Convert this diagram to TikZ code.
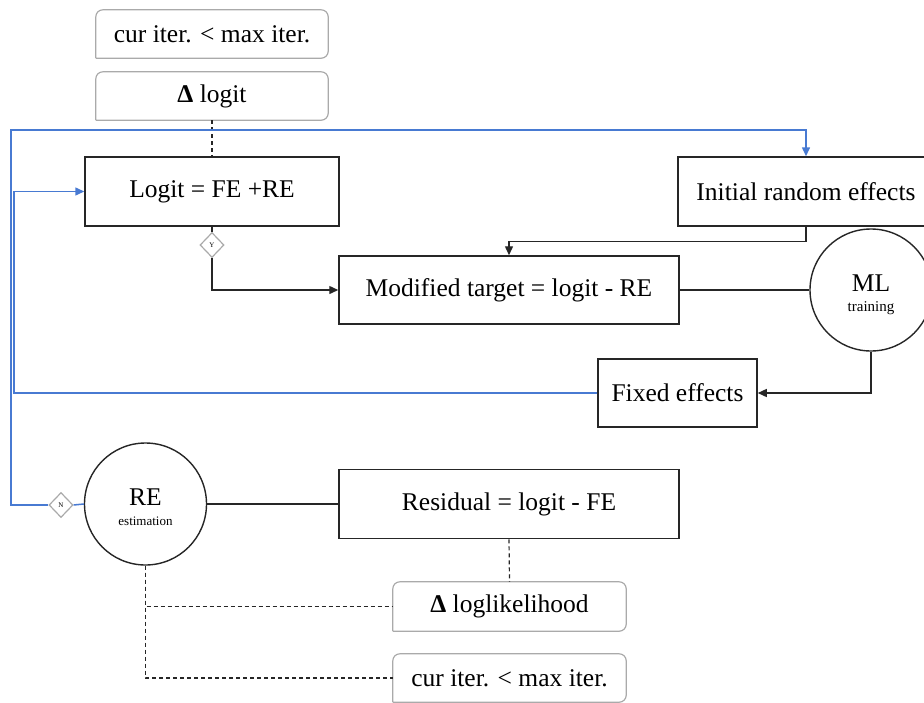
\documentclass[tikz,border=0pt]{standalone}
\usepackage{fontspec}
\setmainfont{Liberation Serif}
\usetikzlibrary{arrows.meta,shapes.geometric}
\definecolor{flowblue}{RGB}{72,122,210}
\definecolor{boxgray}{RGB}{170,170,170}
\begin{document}
\begin{tikzpicture}[x=1pt,y=-1pt,
  mainfont/.style={font=\fontsize{25.5}{28}\selectfont},
  blackbox/.style={draw=black!85,line width=1.5pt,rectangle,inner sep=0pt,mainfont},
  softbox/.style={rectangle,inner sep=0pt,mainfont},
  graybox/.style={draw=boxgray,line width=1.2pt},
  roundnode/.style={draw=black!85,line width=1.4pt,circle,inner sep=0pt,minimum size=122pt},
  plaintext/.style={inner sep=0pt},
  decision/.style={diamond,draw=boxgray,line width=1.2pt,fill=white,inner sep=0pt,minimum width=24pt,minimum height=25pt,font=\fontsize{7}{7}\selectfont},
  conn/.style={draw=black!85,line width=1.4pt},
  blueconn/.style={draw=flowblue,line width=1.5pt},
  dashconn/.style={draw=black!85,line width=1.2pt,dash pattern=on 4pt off 3pt},
  tip/.style={-{Triangle[length=9pt,width=8pt]}}
]
\useasboundingbox (0,0) rectangle (924,702);
\clip (0,0) rectangle (924,702);

% nodes
\node[softbox,minimum width=232pt,minimum height=48pt] (topcond) at (212,34) {cur iter. < max iter.};
\node[softbox,minimum width=232pt,minimum height=48pt] (dlogit) at (212,96) {\textbf{Δ} logit};
\node[blackbox,minimum width=254pt,minimum height=69pt] (logit) at (212,191.5) {Logit = FE +RE};
\node[blackbox,minimum width=256pt,minimum height=69pt] (init) at (806,191.5) {Initial random effects};
\node[blackbox,minimum width=340pt,minimum height=68pt] (mod) at (509,290) {Modified target = logit - RE};
\node[roundnode] (ml) at (871,290) {};
\node[plaintext,font=\fontsize{25.5}{26}\selectfont] (mltxt) at (871,283) {ML};
\node[plaintext,font=\fontsize{15}{16}\selectfont] (mlsub) at (871,308) {training};
\node[blackbox,minimum width=159pt,minimum height=68pt] (fixed) at (677.5,393) {Fixed effects};
\node[roundnode] (re) at (145.5,504) {};
\node[plaintext,font=\fontsize{25.5}{26}\selectfont] (retxt) at (145.5,497) {RE};
\node[plaintext,font=\fontsize{13}{14}\selectfont] (resub) at (145.5,521) {estimation};
\node[blackbox,minimum width=340pt,minimum height=69pt] (resid) at (509,504) {Residual = logit - FE};
\node[softbox,minimum width=233pt,minimum height=49pt] (dll) at (509.5,606.5) {\textbf{Δ} loglikelihood};
\node[softbox,minimum width=233pt,minimum height=48pt] (botcond) at (509.5,678) {cur iter. < max iter.};
\node[decision] (ydec) at (212,245) {Y};
\node[decision] (ndec) at (61,505) {N};

% gray boxes: three rounded corners, square bottom-left
\foreach \b in {topcond,dlogit,dll,botcond}{
  \draw[graybox] (\b.south west) [rounded corners=7pt] -- (\b.north west) -- (\b.north east) -- (\b.south east) -- (\b.south west);
}

% helper coordinates for the left blue loops
\coordinate (jinner) at (14,300);
\coordinate (jouter) at (11,130);

% connectors
\draw[dashconn] (dlogit.south) -- (logit.north);
\draw[conn] (logit.south) -- (ydec.north);
\draw[conn,tip] (ydec.south) |- (mod.west);
\draw[conn,tip] (init.south) -- ++(0,14.5) -| (mod.north);
\draw[conn] (mod.east) -- (ml.west);
\draw[conn,tip] (ml.south) |- (fixed.east);
\draw[blueconn,tip] (fixed.west) -| (jinner) |- (logit.west);
\draw[blueconn] (re.west) -- (ndec.east);
\draw[blueconn,tip] (ndec.west) -| (jouter) -| (init.north);
\draw[conn] (re.east) -- (resid.west);
\draw[dashconn] (resid.south) -- (dll.north);
\draw[dashconn] (re.south) |- (dll.west);
\draw[dashconn] (re.south) |- (botcond.west);
\end{tikzpicture}
\end{document}
